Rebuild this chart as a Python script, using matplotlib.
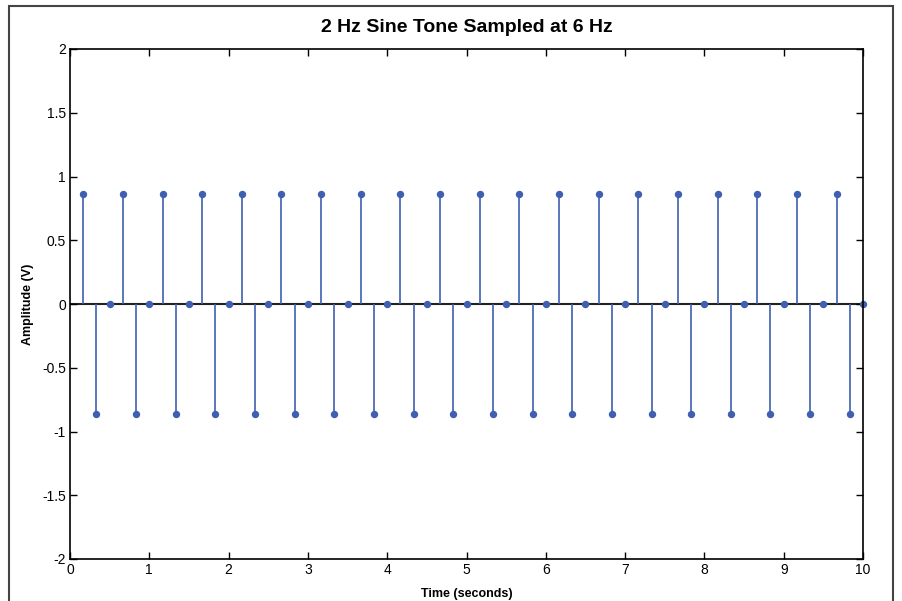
import matplotlib
matplotlib.use("Agg")
import matplotlib.pyplot as plt
from matplotlib.patches import Rectangle

plt.rcParams['font.family'] = ['Liberation Sans', 'DejaVu Sans']
plt.rcParams['axes.unicode_minus'] = False

# sample times (seconds), 6 Hz sampling from 1/6 s to 10 s
times = [n / 6 for n in range(1, 61)]
# sampled amplitude (V)
amplitudes = [0.866, -0.866, 0.0] * 20

x_ticks = [0, 1, 2, 3, 4, 5, 6, 7, 8, 9, 10]
y_ticks = [-2, -1.5, -1, -0.5, 0, 0.5, 1, 1.5, 2]
y_tick_labels = ['-2', '-1.5', '-1', '-0.5', '0', '0.5', '1', '1.5', '2']

fig = plt.figure(figsize=(9.02, 6.01), dpi=100)
fig.patches.append(Rectangle((9 / 902, -0.05), (893 - 9) / 902, 1.05 - 6 / 601,
                             transform=fig.transFigure, fill=False,
                             edgecolor='#444444', linewidth=1.5))
ax = fig.add_axes([70 / 902, 1 - 559 / 601, (863 - 70) / 902, (559 - 49) / 601])

stem_color = '#3F5FB0'
ml, sl, bl = ax.stem(times, amplitudes, basefmt=' ')
plt.setp(sl, color=stem_color, linewidth=1.2)
plt.setp(ml, color=stem_color, markersize=4.3)
ax.axhline(0, color='#222222', linewidth=1.5, zorder=1.5)
ml.set_clip_on(False)

ax.set_xlim(0, 10)
ax.set_ylim(-2, 2)
ax.set_xticks(x_ticks)
ax.set_xticklabels([str(v) for v in x_ticks])
ax.set_yticks(y_ticks)
ax.set_yticklabels(y_tick_labels)
ax.tick_params(direction='in', length=5, width=1, top=True, right=True,
               labelsize=10, pad=3)
for sp in ax.spines.values():
    sp.set_linewidth(1.2)

ax.set_title('2 Hz Sine Tone Sampled at 6 Hz', fontsize=14, fontweight='bold', pad=12)
ax.set_xlabel('Time (seconds)', fontsize=9, fontweight='bold', labelpad=8)
ax.set_ylabel('Amplitude (V)', fontsize=9, fontweight='bold', labelpad=6)

fig.savefig('out.png', dpi=100)
